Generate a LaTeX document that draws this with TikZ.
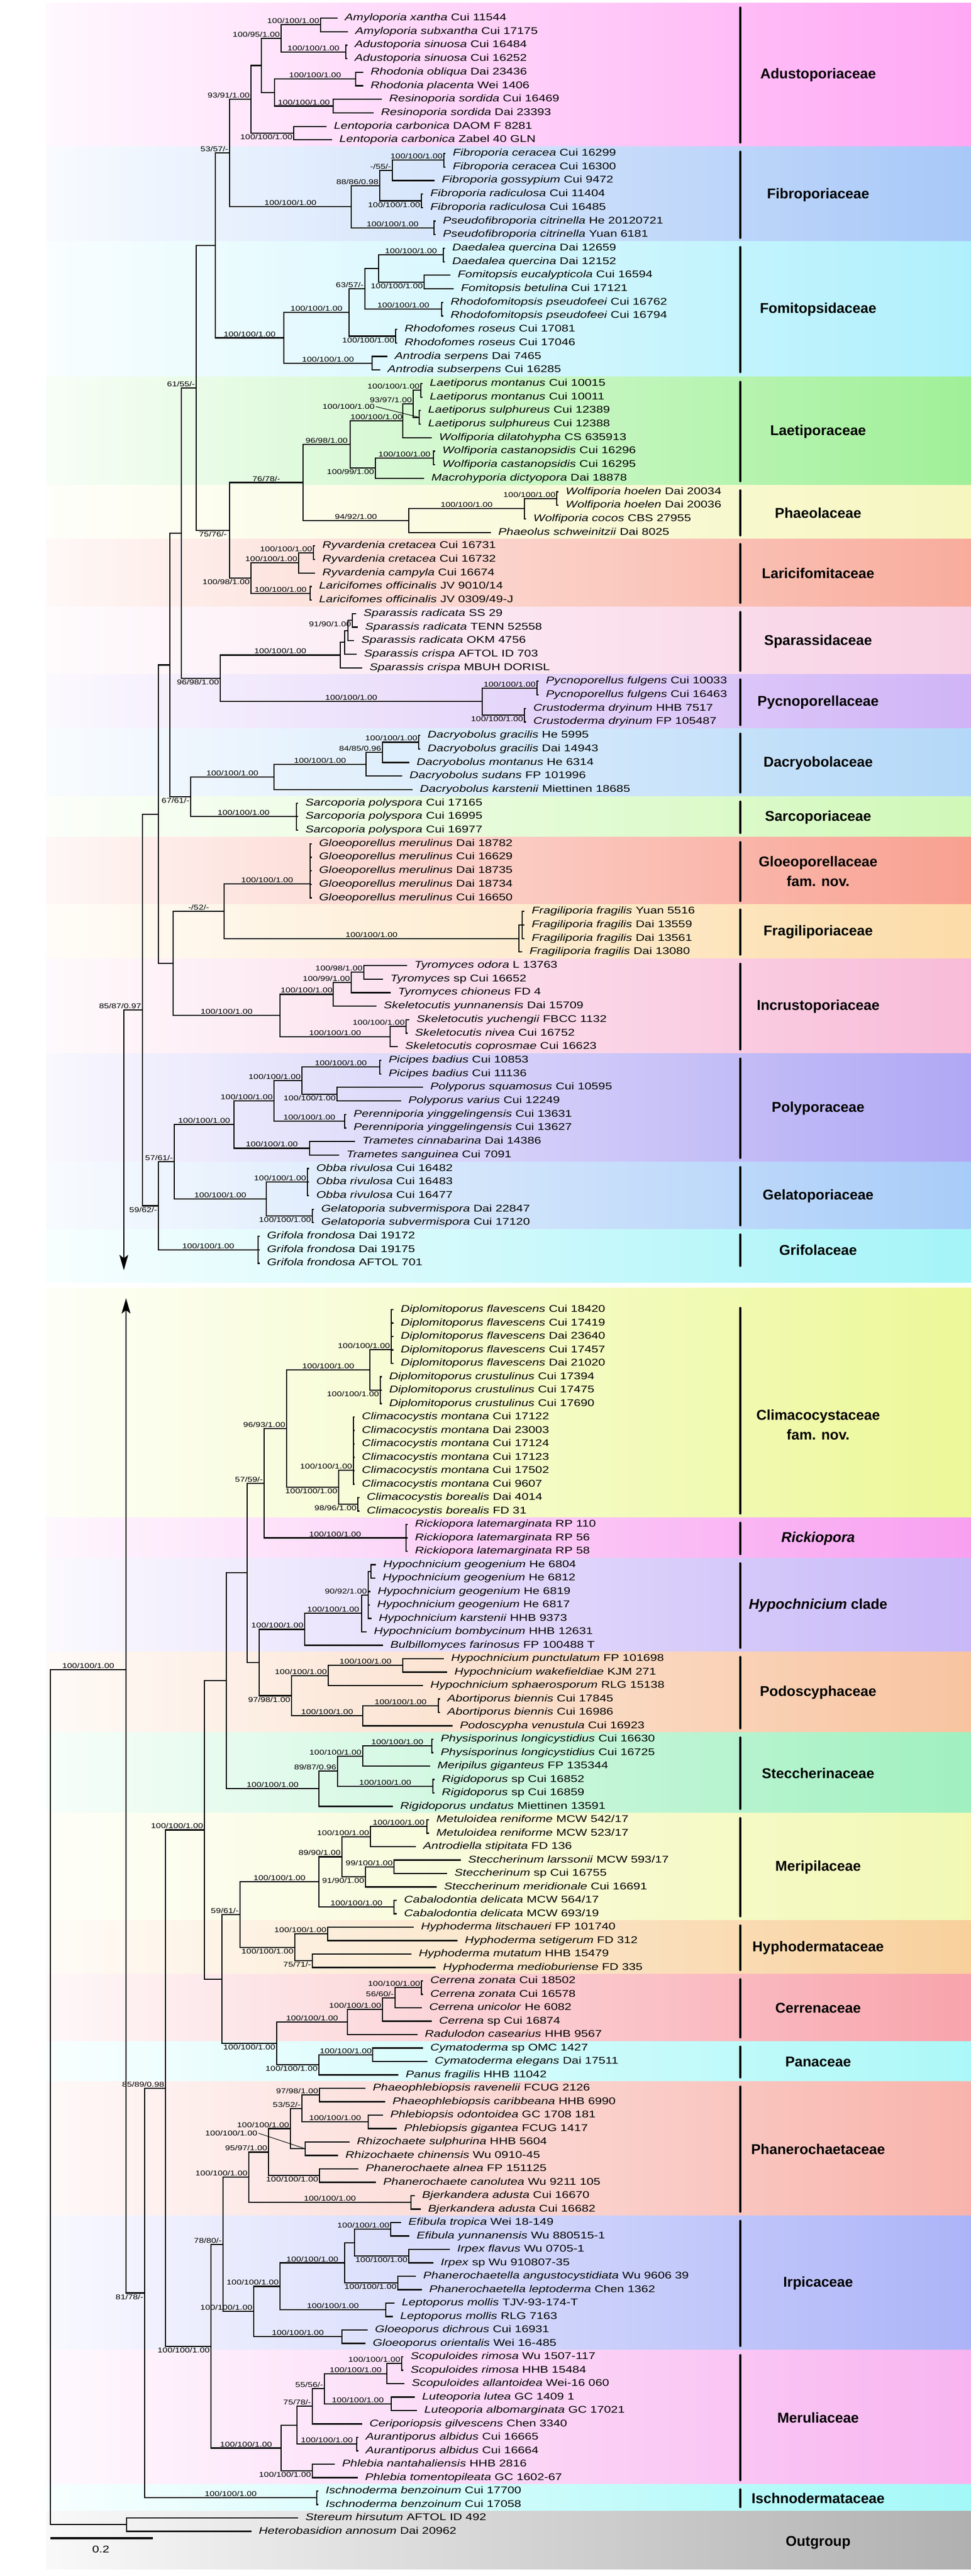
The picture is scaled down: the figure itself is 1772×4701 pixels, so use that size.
\documentclass[tikz,border=0pt]{standalone}
\usepackage{fontspec}
\setmainfont{Liberation Sans}[FakeStretch=1.27]
\newfontfamily\famfont{Liberation Sans}
\usetikzlibrary{calc,arrows.meta}
\definecolor{cAdus}{HTML}{FFA8F4}
\definecolor{cFibr}{HTML}{A8C8F8}
\definecolor{cFomi}{HTML}{B0F0FC}
\definecolor{cLaet}{HTML}{A0F098}
\definecolor{cPhae}{HTML}{F6F6C0}
\definecolor{cLari}{HTML}{F8AC9C}
\definecolor{cSpar}{HTML}{F8D0E4}
\definecolor{cPycn}{HTML}{D0B4F6}
\definecolor{cDacr}{HTML}{B4D8F8}
\definecolor{cSarc}{HTML}{D0F8B8}
\definecolor{cGloe}{HTML}{F8A090}
\definecolor{cFrag}{HTML}{FCDCA8}
\definecolor{cIncr}{HTML}{F8BCD8}
\definecolor{cPoly}{HTML}{B0A8F4}
\definecolor{cGela}{HTML}{A8CCF8}
\definecolor{cGrif}{HTML}{A4F4F8}
\definecolor{cClim}{HTML}{ECF898}
\definecolor{cRick}{HTML}{F8A0F0}
\definecolor{cHypo}{HTML}{C8B8F8}
\definecolor{cPodo}{HTML}{F8C4A0}
\definecolor{cStec}{HTML}{A0F0C0}
\definecolor{cMeri}{HTML}{F2F8B4}
\definecolor{cHyph}{HTML}{F8D09C}
\definecolor{cCerr}{HTML}{F8A4AC}
\definecolor{cPana}{HTML}{ACF8F8}
\definecolor{cPhan}{HTML}{F8B4AC}
\definecolor{cIrpi}{HTML}{ACB4F8}
\definecolor{cMeru}{HTML}{F8B4F0}
\definecolor{cIsch}{HTML}{A4F8F8}
\definecolor{cOutg}{HTML}{B0B0B0}
% tips
\newcommand{\tA}[5]{\coordinate (#1) at (#3,{33+24.7*(#2-1)}); \node[tl] (#1l) at (#1) {\textit{#4} #5};}
\newcommand{\tB}[5]{\coordinate (#1) at (#3,{2390+24.5*(#2-1)}); \node[tl] (#1l) at (#1) {\textit{#4} #5};}
% clades
\newcommand{\cl}[3]{%
  \foreach \chd [count=\ci] in {#3}{\ifnum\ci=1 \xdef\cfirst{\chd}\fi\xdef\clast{\chd}}%
  \coordinate (#1m) at ($(\cfirst)!0.5!(\clast)$);%
  \coordinate (#1x) at (#2,0);%
  \coordinate (#1) at (#1m -| #1x);%
  \draw[br] (#1 |- \cfirst) -- (#1 |- \clast);%
  \foreach \chd in {#3}{\draw[br] (#1 |- \chd) -- (\chd);}%
}
\newcommand{\clY}[4]{%
  \foreach \chd [count=\ci] in {#4}{\ifnum\ci=1 \xdef\cfirst{\chd}\fi\xdef\clast{\chd}}%
  \coordinate (#1) at (#2,#3);%
  \draw[br] (#1 |- \cfirst) -- (#1 |- \clast);%
  \foreach \chd in {#4}{\draw[br] (#1 |- \chd) -- (\chd);}%
}
% support labels
\newcommand{\lra}[2]{\node[sup,anchor=south east] (#1s) at (#1) {#2};}
\newcommand{\lrb}[2]{\node[sup,anchor=north east] (#1s) at (#1) {#2};}
\newcommand{\lca}[3]{\node[sup,anchor=south] (#1s) at ($(#1)!0.5!(#2 |- #1)$) {#3};}
\newcommand{\lcb}[3]{\node[sup,anchor=north] (#1s) at ($(#1)!0.5!(#2 |- #1)$) {#3};}
% bands and families
\newcommand{\band}[3]{\shade[left color=#1!8!white,right color=#1] (84,#2) rectangle (1772,#3);}
\newcommand{\famlab}[4]{\draw[famb] (1351,#2) -- (1351,#3); \node[fam] (#1) at (1493,{(#2+#3)/2}) {#4};}
\begin{document}
\begin{tikzpicture}[x=0.5pt,y=-0.5pt,
  br/.style={line width=1.1pt,line cap=rect},
  tl/.style={anchor=west,inner sep=0pt,font=\fontsize{8.9}{10}\selectfont,text height=6.4pt,text depth=1.9pt,xshift=7pt},
  sup/.style={inner sep=1pt,font=\fontsize{6.4}{7}\selectfont},
  fam/.style={font=\famfont\bfseries\fontsize{13}{18}\selectfont,align=center},
  famb/.style={line width=2pt,line cap=round}]
\useasboundingbox (0,0) rectangle (1772,4701);
\fill[white] (0,0) rectangle (1772,4701);
% ---------- bands top
\band{cAdus}{5}{267.65}
\band{cFibr}{267.65}{440.55}
\band{cFomi}{440.55}{687.55}
\band{cLaet}{687.55}{885.15}
\band{cPhae}{885.15}{983.95}
\band{cLari}{983.95}{1107.45}
\band{cSpar}{1107.45}{1230.95}
\band{cPycn}{1230.95}{1329.75}
\band{cDacr}{1329.75}{1453.25}
\band{cSarc}{1453.25}{1527.35}
\band{cGloe}{1527.35}{1650.85}
\band{cFrag}{1650.85}{1749.65}
\band{cIncr}{1749.65}{1922.55}
\band{cPoly}{1922.55}{2120.15}
\band{cGela}{2120.15}{2243.65}
\band{cGrif}{2243.65}{2340}
% ---------- bands bottom
\band{cClim}{2350}{2769.75}
\band{cRick}{2769.75}{2843.25}
\band{cHypo}{2843.25}{3014.75}
\band{cPodo}{3014.75}{3161.75}
\band{cStec}{3161.75}{3308.75}
\band{cMeri}{3308.75}{3504.75}
\band{cHyph}{3504.75}{3602.75}
\band{cCerr}{3602.75}{3725.25}
\band{cPana}{3725.25}{3798.75}
\band{cPhan}{3798.75}{4043.75}
\band{cIrpi}{4043.75}{4288.75}
\band{cMeru}{4288.75}{4533.75}
\band{cIsch}{4533.75}{4582.75}
\band{cOutg}{4582.75}{4688}
% ---------- top tips
\tA{t1}{1}{615}{Amyloporia xantha}{Cui 11544}
\tA{t2}{2}{634}{Amyloporia subxantha}{Cui 17175}
\tA{t3}{3}{633}{Adustoporia sinuosa}{Cui 16484}
\tA{t4}{4}{633}{Adustoporia sinuosa}{Cui 16252}
\tA{t5}{5}{662}{Rhodonia obliqua}{Dai 23436}
\tA{t6}{6}{662}{Rhodonia placenta}{Wei 1406}
\tA{t7}{7}{696}{Resinoporia sordida}{Cui 16469}
\tA{t8}{8}{681}{Resinoporia sordida}{Dai 23393}
\tA{t9}{9}{595}{Lentoporia carbonica}{DAOM F 8281}
\tA{t10}{10}{605}{Lentoporia carbonica}{Zabel 40 GLN}
\tA{t11}{11}{812}{Fibroporia ceracea}{Cui 16299}
\tA{t12}{12}{812}{Fibroporia ceracea}{Cui 16300}
\tA{t13}{13}{792}{Fibroporia gossypium}{Cui 9472}
\tA{t14}{14}{771}{Fibroporia radiculosa}{Cui 11404}
\tA{t15}{15}{771}{Fibroporia radiculosa}{Cui 16485}
\tA{t16}{16}{794}{Pseudofibroporia citrinella}{He 20120721}
\tA{t17}{17}{794}{Pseudofibroporia citrinella}{Yuan 6181}
\tA{t18}{18}{811}{Daedalea quercina}{Dai 12659}
\tA{t19}{19}{811}{Daedalea quercina}{Dai 12152}
\tA{t20}{20}{821}{Fomitopsis eucalypticola}{Cui 16594}
\tA{t21}{21}{827}{Fomitopsis betulina}{Cui 17121}
\tA{t22}{22}{808}{Rhodofomitopsis pseudofeei}{Cui 16762}
\tA{t23}{23}{808}{Rhodofomitopsis pseudofeei}{Cui 16794}
\tA{t24}{24}{724}{Rhodofomes roseus}{Cui 17081}
\tA{t25}{25}{724}{Rhodofomes roseus}{Cui 17046}
\tA{t26}{26}{706}{Antrodia serpens}{Dai 7465}
\tA{t27}{27}{693}{Antrodia subserpens}{Cui 16285}
\tA{t28}{28}{770}{Laetiporus montanus}{Cui 10015}
\tA{t29}{29}{770}{Laetiporus montanus}{Cui 10011}
\tA{t30}{30}{767}{Laetiporus sulphureus}{Cui 12389}
\tA{t31}{31}{767}{Laetiporus sulphureus}{Cui 12388}
\tA{t32}{32}{787}{Wolfiporia dilatohypha}{CS 635913}
\tA{t33}{33}{793}{Wolfiporia castanopsidis}{Cui 16296}
\tA{t34}{34}{793}{Wolfiporia castanopsidis}{Cui 16295}
\tA{t35}{35}{773}{Macrohyporia dictyopora}{Dai 18878}
\tA{t36}{36}{1018}{Wolfiporia hoelen}{Dai 20034}
\tA{t37}{37}{1018}{Wolfiporia hoelen}{Dai 20036}
\tA{t38}{38}{959}{Wolfiporia cocos}{CBS 27955}
\tA{t39}{39}{895}{Phaeolus schweinitzii}{Dai 8025}
\tA{t40}{40}{574}{Ryvardenia cretacea}{Cui 16731}
\tA{t41}{41}{574}{Ryvardenia cretacea}{Cui 16732}
\tA{t42}{42}{574}{Ryvardenia campyla}{Cui 16674}
\tA{t43}{43}{568}{Laricifomes officinalis}{JV 9010/14}
\tA{t44}{44}{568}{Laricifomes officinalis}{JV 0309/49-J}
\tA{t45}{45}{649}{Sparassis radicata}{SS 29}
\tA{t46}{46}{652}{Sparassis radicata}{TENN 52558}
\tA{t47}{47}{645}{Sparassis radicata}{OKM 4756}
\tA{t48}{48}{650}{Sparassis crispa}{AFTOL ID 703}
\tA{t49}{49}{660}{Sparassis crispa}{MBUH DORISL}
\tA{t50}{50}{982}{Pycnoporellus fulgens}{Cui 10033}
\tA{t51}{51}{982}{Pycnoporellus fulgens}{Cui 16463}
\tA{t52}{52}{959}{Crustoderma dryinum}{HHB 7517}
\tA{t53}{53}{959}{Crustoderma dryinum}{FP 105487}
\tA{t54}{54}{766}{Dacryobolus gracilis}{He 5995}
\tA{t55}{55}{766}{Dacryobolus gracilis}{Dai 14943}
\tA{t56}{56}{746}{Dacryobolus montanus}{He 6314}
\tA{t57}{57}{733}{Dacryobolus sudans}{FP 101996}
\tA{t58}{58}{752}{Dacryobolus karstenii}{Miettinen 18685}
\tA{t59}{59}{543}{Sarcoporia polyspora}{Cui 17165}
\tA{t60}{60}{543}{Sarcoporia polyspora}{Cui 16995}
\tA{t61}{61}{543}{Sarcoporia polyspora}{Cui 16977}
\tA{t62}{62}{568}{Gloeoporellus merulinus}{Dai 18782}
\tA{t63}{63}{568}{Gloeoporellus merulinus}{Cui 16629}
\tA{t64}{64}{568}{Gloeoporellus merulinus}{Dai 18735}
\tA{t65}{65}{568}{Gloeoporellus merulinus}{Dai 18734}
\tA{t66}{66}{568}{Gloeoporellus merulinus}{Cui 16650}
\tA{t67}{67}{956}{Fragiliporia fragilis}{Yuan 5516}
\tA{t68}{68}{956}{Fragiliporia fragilis}{Dai 13559}
\tA{t69}{69}{956}{Fragiliporia fragilis}{Dai 13561}
\tA{t70}{70}{952}{Fragiliporia fragilis}{Dai 13080}
\tA{t71}{71}{742}{Tyromyces odora}{L 13763}
\tA{t72}{72}{698}{Tyromyces}{sp Cui 16652}
\tA{t73}{73}{712}{Tyromyces chioneus}{FD 4}
\tA{t74}{74}{686}{Skeletocutis yunnanensis}{Dai 15709}
\tA{t75}{75}{746}{Skeletocutis yuchengii}{FBCC 1132}
\tA{t76}{76}{743}{Skeletocutis nivea}{Cui 16752}
\tA{t77}{77}{725}{Skeletocutis coprosmae}{Cui 16623}
\tA{t78}{78}{695}{Picipes badius}{Cui 10853}
\tA{t79}{79}{695}{Picipes badius}{Cui 11136}
\tA{t80}{80}{771}{Polyporus squamosus}{Cui 10595}
\tA{t81}{81}{731}{Polyporus varius}{Cui 12249}
\tA{t82}{82}{631}{Perenniporia yinggelingensis}{Cui 13631}
\tA{t83}{83}{631}{Perenniporia yinggelingensis}{Cui 13627}
\tA{t84}{84}{647}{Trametes cinnabarina}{Dai 14386}
\tA{t85}{85}{618}{Trametes sanguinea}{Cui 7091}
\tA{t86}{86}{563}{Obba rivulosa}{Cui 16482}
\tA{t87}{87}{563}{Obba rivulosa}{Cui 16483}
\tA{t88}{88}{563}{Obba rivulosa}{Cui 16477}
\tA{t89}{89}{572}{Gelatoporia subvermispora}{Dai 22847}
\tA{t90}{90}{572}{Gelatoporia subvermispora}{Cui 17120}
\tA{t91}{91}{473}{Grifola frondosa}{Dai 19172}
\tA{t92}{92}{473}{Grifola frondosa}{Dai 19175}
\tA{t93}{93}{473}{Grifola frondosa}{AFTOL 701}
% ---------- top clades
\cl{cAmy}{585}{t1,t2}
\cl{cAdu}{631}{t3,t4}
\cl{c10095}{513}{cAmy,cAdu}
\cl{cRho}{649}{t5,t6}
\cl{cRes}{608}{t7,t8}
\cl{cRR}{501}{cRho,cRes}
\cl{cA1}{477}{c10095,cRR}
\cl{cLen}{536}{t9,t10}
\cl{c9391}{458}{cA1,cLen}
\cl{cFce}{810}{t11,t12}
\cl{c55}{716}{cFce,t13}
\cl{cFra}{769}{t14,t15}
\cl{c8886}{693}{c55,cFra}
\cl{cPse}{792}{t16,t17}
\cl{cFib}{641}{c8886,cPse}
\cl{c5357}{419}{c9391,cFib}
\cl{cDae}{809}{t18,t19}
\cl{cFom}{774}{t20,t21}
\cl{cDF}{691}{cDae,cFom}
\cl{cRhf}{806}{t22,t23}
\cl{c6357}{666}{cDF,cRhf}
\cl{cRof}{722}{t24,t25}
\cl{cF2}{637}{c6357,cRof}
\cl{cAnt}{679}{t26,t27}
\cl{cFomi}{518}{cF2,cAnt}
\cl{cA2}{393}{c5357,cFomi}
\cl{cLmo}{768}{t28,t29}
\cl{cLsu}{765}{t30,t31}
\cl{c9397}{754}{cLmo,cLsu}
\cl{cL2}{735}{c9397,t32}
\cl{cWca}{791}{t33,t34}
\cl{c10099}{685}{cWca,t35}
\cl{c9698a}{639}{cL2,c10099}
\cl{cWho}{1016}{t36,t37}
\cl{cWh2}{957}{cWho,t38}
\cl{c9492}{746}{cWh2,t39}
\cl{c7678}{553}{c9698a,c9492}
\cl{cRcr}{572}{t40,t41}
\cl{cRyv}{545}{cRcr,t42}
\cl{cLar}{566}{t43,t44}
\cl{c10098}{458}{cRyv,cLar}
\cl{c7576}{419}{c7678,c10098}
\cl{c6155}{358}{cA2,c7576}
\cl{cSp1}{643}{t45,t46}
\cl{cSp2}{635}{cSp1,t47}
\cl{cSp3}{629}{cSp2,t48}
\cl{cSpa}{621}{cSp3,t49}
\cl{cPfu}{980}{t50,t51}
\cl{cCru}{957}{t52,t53}
\cl{cPyc}{880}{cPfu,cCru}
\cl{c9698b}{402}{cSpa,cPyc}
\cl{cB1}{331}{c6155,c9698b}
\cl{cDgr}{764}{t54,t55}
\cl{c8485}{698}{cDgr,t56}
\cl{cD2}{668}{c8485,t57}
\cl{cDac}{500}{cD2,t58}
\cl{cSar}{541}{t59,t60,t61}
\cl{c6761}{348}{cDac,cSar}
\cl{cTb}{310}{cB1,c6761}
\clY{cGlo}{566}{1613}{t62,t63,t64,t65,t66}
\cl{cFr1}{953}{t67,t68,t69}
\cl{cFr2}{947}{cFr1,t70}
\cl{c52}{409}{cGlo,cFr2}
\cl{cTy1}{664}{t71,t72}
\cl{cTy2}{641}{cTy1,t73}
\cl{cTy3}{608}{cTy2,t74}
\cl{cSk1}{741}{t75,t76}
\cl{cSk2}{712}{cSk1,t77}
\cl{cInc}{511}{cTy3,cSk2}
\cl{cTc}{316}{c52,cInc}
\cl{cTa}{289}{cTb,cTc}
\cl{cPic}{693}{t78,t79}
\cl{cPol}{615}{t80,t81}
\cl{cPP}{551}{cPic,cPol}
\cl{cPer}{629}{t82,t83}
\cl{cPP2}{500}{cPP,cPer}
\cl{cTra}{565}{t84,t85}
\cl{cPoly}{427}{cPP2,cTra}
\cl{cObb}{561}{t86,t87,t88}
\cl{cGel}{570}{t89,t90}
\cl{cGela}{486}{cObb,cGel}
\cl{c5761}{318}{cPoly,cGela}
\cl{cGri}{471}{t91,t92,t93}
\cl{c5962}{289}{c5761,cGri}
\cl{cT0}{260}{cTa,c5962}
\coordinate (arrTop) at (226,2318);
\draw[br,-{Stealth[length=14pt,width=8pt,inset=3pt]}] (cT0) -- (cT0 -| arrTop) -- (arrTop);
% ---------- top support values
\lra{cAmy}{100/100/1.00}
\lra{c10095}{100/95/1.00}
\lca{cAdu}{c10095}{100/100/1.00}
\lca{cRho}{cRR}{100/100/1.00}
\lca{cRes}{cRR}{100/100/1.00}
\lra{c9391}{93/91/1.00}
\lrb{cLen}{100/100/1.00}
\lra{c5357}{53/57/-}
\lra{cFce}{100/100/1.00}
\lra{c55}{-/55/-}
\lra{c8886}{88/86/0.98}
\lrb{cFra}{100/100/1.00}
\lca{cFib}{c5357}{100/100/1.00}
\lca{cPse}{cFib}{100/100/1.00}
\lca{cDae}{cDF}{100/100/1.00}
\lra{c6357}{63/57/-}
\lrb{cFom}{100/100/1.00}
\lca{cRhf}{c6357}{100/100/1.00}
\lca{cF2}{cFomi}{100/100/1.00}
\lrb{cRof}{100/100/1.00}
\lca{cFomi}{cA2}{100/100/1.00}
\lca{cAnt}{cFomi}{100/100/1.00}
\lra{c6155}{61/55/-}
\lra{cLmo}{100/100/1.00}
\lra{c9397}{93/97/1.00}
\node[sup,anchor=east] (cLsus) at (686,742) {100/100/1.00};
\draw[line width=0.5pt] (cLsus.east) -- (cLsu);
\lca{cL2}{c9698a}{100/100/1.00}
\lca{c9698a}{c7678}{96/98/1.00}
\lca{cWca}{c10099}{100/100/1.00}
\lrb{c10099}{100/99/1.00}
\lca{c7678}{c7576}{76/78/-}
\lra{cWho}{100/100/1.00}
\lca{cWh2}{c9492}{100/100/1.00}
\lca{c9492}{c7678}{94/92/1.00}
\lcb{c7576}{c6155}{75/76/-}
\lra{cRcr}{100/100/1.00}
\lra{cRyv}{100/100/1.00}
\lrb{c10098}{100/98/1.00}
\lca{cLar}{c10098}{100/100/1.00}
\lrb{cSp1}{91/90/1.00}
\lca{cSpa}{c9698b}{100/100/1.00}
\lrb{c9698b}{96/98/1.00}
\lca{cPfu}{cPyc}{100/100/1.00}
\lrb{cCru}{100/100/1.00}
\lca{cPyc}{c9698b}{100/100/1.00}
\lra{cDgr}{100/100/1.00}
\lra{c8485}{84/85/0.96}
\lca{cD2}{cDac}{100/100/1.00}
\lca{cDac}{c6761}{100/100/1.00}
\lrb{c6761}{67/61/-}
\lca{cSar}{c6761}{100/100/1.00}
\lca{cGlo}{c52}{100/100/1.00}
\lca{cFr2}{c52}{100/100/1.00}
\lca{c52}{cTc}{-/52/-}
\lra{cTy1}{100/98/1.00}
\lra{cTy2}{100/99/1.00}
\lca{cTy3}{cInc}{100/100/1.00}
\lra{cSk1}{100/100/1.00}
\lca{cSk2}{cInc}{100/100/1.00}
\lca{cInc}{cTc}{100/100/1.00}
\lra{cT0}{85/87/0.97}
\lca{cPic}{cPP}{100/100/1.00}
\lra{cPP}{100/100/1.00}
\lrb{cPol}{100/100/1.00}
\lra{cPP2}{100/100/1.00}
\lca{cPer}{cPP2}{100/100/1.00}
\lca{cPoly}{c5761}{100/100/1.00}
\lca{cTra}{cPoly}{100/100/1.00}
\lra{c5761}{57/61/-}
\lra{cObb}{100/100/1.00}
\lca{cGela}{c5761}{100/100/1.00}
\lrb{cGel}{100/100/1.00}
\lrb{c5962}{59/62/-}
\lca{cGri}{c5962}{100/100/1.00}
% ---------- bottom tips
\tB{b1}{1}{717}{Diplomitoporus flavescens}{Cui 18420}
\tB{b2}{2}{717}{Diplomitoporus flavescens}{Cui 17419}
\tB{b3}{3}{717}{Diplomitoporus flavescens}{Dai 23640}
\tB{b4}{4}{717}{Diplomitoporus flavescens}{Cui 17457}
\tB{b5}{5}{717}{Diplomitoporus flavescens}{Dai 21020}
\tB{b6}{6}{696}{Diplomitoporus crustulinus}{Cui 17394}
\tB{b7}{7}{696}{Diplomitoporus crustulinus}{Cui 17475}
\tB{b8}{8}{696}{Diplomitoporus crustulinus}{Cui 17690}
\tB{b9}{9}{646}{Climacocystis montana}{Cui 17122}
\tB{b10}{10}{646}{Climacocystis montana}{Dai 23003}
\tB{b11}{11}{646}{Climacocystis montana}{Cui 17124}
\tB{b12}{12}{646}{Climacocystis montana}{Cui 17123}
\tB{b13}{13}{646}{Climacocystis montana}{Cui 17502}
\tB{b14}{14}{646}{Climacocystis montana}{Cui 9607}
\tB{b15}{15}{655}{Climacocystis borealis}{Dai 4014}
\tB{b16}{16}{655}{Climacocystis borealis}{FD 31}
\tB{b17}{17}{743}{Rickiopora latemarginata}{RP 110}
\tB{b18}{18}{743}{Rickiopora latemarginata}{RP 56}
\tB{b19}{19}{743}{Rickiopora latemarginata}{RP 58}
\tB{b20}{20}{685}{Hypochnicium geogenium}{He 6804}
\tB{b21}{21}{684}{Hypochnicium geogenium}{He 6812}
\tB{b22}{22}{675}{Hypochnicium geogenium}{He 6819}
\tB{b23}{23}{674}{Hypochnicium geogenium}{He 6817}
\tB{b24}{24}{677}{Hypochnicium karstenii}{HHB 9373}
\tB{b25}{25}{668}{Hypochnicium bombycinum}{HHB 12631}
\tB{b26}{26}{698}{Bulbillomyces farinosus}{FP 100488 T}
\tB{b27}{27}{809}{Hypochnicium punctulatum}{FP 101698}
\tB{b28}{28}{815}{Hypochnicium wakefieldiae}{KJM 271}
\tB{b29}{29}{771}{Hypochnicium sphaerosporum}{RLG 15138}
\tB{b30}{30}{802}{Abortiporus biennis}{Cui 17845}
\tB{b31}{31}{802}{Abortiporus biennis}{Cui 16986}
\tB{b32}{32}{825}{Podoscypha venustula}{Cui 16923}
\tB{b33}{33}{790}{Physisporinus longicystidius}{Cui 16630}
\tB{b34}{34}{790}{Physisporinus longicystidius}{Cui 16725}
\tB{b35}{35}{784}{Meripilus giganteus}{FP 135344}
\tB{b36}{36}{792}{Rigidoporus}{sp Cui 16852}
\tB{b37}{37}{792}{Rigidoporus}{sp Cui 16859}
\tB{b38}{38}{716}{Rigidoporus undatus}{Miettinen 13591}
\tB{b39}{39}{782}{Metuloidea reniforme}{MCW 542/17}
\tB{b40}{40}{782}{Metuloidea reniforme}{MCW 523/17}
\tB{b41}{41}{758}{Antrodiella stipitata}{FD 136}
\tB{b42}{42}{840}{Steccherinum larssonii}{MCW 593/17}
\tB{b43}{43}{815}{Steccherinum}{sp Cui 16755}
\tB{b44}{44}{796}{Steccherinum meridionale}{Cui 16691}
\tB{b45}{45}{723}{Cabalodontia delicata}{MCW 564/17}
\tB{b46}{46}{723}{Cabalodontia delicata}{MCW 693/19}
\tB{b47}{47}{754}{Hyphoderma litschaueri}{FP 101740}
\tB{b48}{48}{834}{Hyphoderma setigerum}{FD 312}
\tB{b49}{49}{750}{Hyphoderma mutatum}{HHB 15479}
\tB{b50}{50}{794}{Hyphoderma medioburiense}{FD 335}
\tB{b51}{51}{771}{Cerrena zonata}{Cui 18502}
\tB{b52}{52}{771}{Cerrena zonata}{Cui 16578}
\tB{b53}{53}{769}{Cerrena unicolor}{He 6082}
\tB{b54}{54}{787}{Cerrena}{sp Cui 16874}
\tB{b55}{55}{761}{Radulodon casearius}{HHB 9567}
\tB{b56}{56}{771}{Cymatoderma}{sp OMC 1427}
\tB{b57}{57}{779}{Cymatoderma elegans}{Dai 17511}
\tB{b58}{58}{726}{Panus fragilis}{HHB 11042}
\tB{b59}{59}{666}{Phaeophlebiopsis ravenelii}{FCUG 2126}
\tB{b60}{60}{702}{Phaeophlebiopsis caribbeana}{HHB 6990}
\tB{b61}{61}{698}{Phlebiopsis odontoidea}{GC 1708 181}
\tB{b62}{62}{723}{Phlebiopsis gigantea}{FCUG 1417}
\tB{b63}{63}{637}{Rhizochaete sulphurina}{HHB 5604}
\tB{b64}{64}{616}{Rhizochaete chinensis}{Wu 0910-45}
\tB{b65}{65}{653}{Phanerochaete alnea}{FP 151125}
\tB{b66}{66}{685}{Phanerochaete canolutea}{Wu 9211 105}
\tB{b67}{67}{756}{Bjerkandera adusta}{Cui 16670}
\tB{b68}{68}{767}{Bjerkandera adusta}{Cui 16682}
\tB{b69}{69}{731}{Efibula tropica}{Wei 18-149}
\tB{b70}{70}{746}{Efibula yunnanensis}{Wu 880515-1}
\tB{b71}{71}{820}{Irpex flavus}{Wu 0705-1}
\tB{b72}{72}{790}{Irpex}{sp Wu 910807-35}
\tB{b73}{73}{758}{Phanerochaetella angustocystidiata}{Wu 9606 39}
\tB{b74}{74}{769}{Phanerochaetella leptoderma}{Chen 1362}
\tB{b75}{75}{719}{Leptoporus mollis}{TJV-93-174-T}
\tB{b76}{76}{716}{Leptoporus mollis}{RLG 7163}
\tB{b77}{77}{670}{Gloeoporus dichrous}{Cui 16931}
\tB{b78}{78}{666}{Gloeoporus orientalis}{Wei 16-485}
\tB{b79}{79}{735}{Scopuloides rimosa}{Wu 1507-117}
\tB{b80}{80}{735}{Scopuloides rimosa}{HHB 15484}
\tB{b81}{81}{737}{Scopuloides allantoidea}{Wei-16 060}
\tB{b82}{82}{756}{Luteoporia lutea}{GC 1409 1}
\tB{b83}{83}{760}{Luteoporia albomarginata}{GC 17021}
\tB{b84}{84}{660}{Ceriporiopsis gilvescens}{Chen 3340}
\tB{b85}{85}{653}{Aurantiporus albidus}{Cui 16665}
\tB{b86}{86}{653}{Aurantiporus albidus}{Cui 16664}
\tB{b87}{87}{610}{Phlebia nantahaliensis}{HHB 2816}
\tB{b88}{88}{652}{Phlebia tomentopileata}{GC 1602-67}
\tB{b89}{89}{580}{Ischnoderma benzoinum}{Cui 17700}
\tB{b90}{90}{580}{Ischnoderma benzoinum}{Cui 17058}
\tB{b91}{91}{543}{Stereum hirsutum}{AFTOL ID 492}
\tB{b92}{92}{458}{Heterobasidion annosum}{Dai 20962}
% ---------- bottom clades
\clY{cDfl}{714}{2463}{b1,b2,b3,b4,b5}
\cl{cDcr}{694}{b6,b7,b8}
\cl{cDip}{675}{cDfl,cDcr}
\clY{cCmo}{645}{2683}{b9,b10,b11,b12,b13,b14}
\cl{cCbo}{653}{b15,b16}
\cl{cCli}{618}{cCmo,cCbo}
\cl{c9693}{523}{cDip,cCli}
\cl{cRic}{741}{b17,b18,b19}
\cl{c5759}{482}{c9693,cRic}
\cl{cHg1}{677}{b20,b21}
\cl{c9092}{672}{cHg1,b22,b23,b24}
\cl{cHy2}{660}{c9092,b25}
\cl{cHyp}{556}{cHy2,b26}
\cl{cHpw}{735}{b27,b28}
\cl{cHs}{599}{cHpw,b29}
\cl{cAbo}{800}{b30,b31}
\cl{cAb2}{662}{cAbo,b32}
\cl{c9798}{532}{cHs,cAb2}
\cl{cB473}{473}{cHyp,c9798}
\cl{cB451}{451}{c5759,cB473}
\cl{cPhy}{788}{b33,b34}
\cl{cPM}{662}{cPhy,b35}
\cl{cRsp}{790}{b36,b37}
\cl{c8987}{616}{cPM,cRsp}
\cl{cStec}{582}{c8987,b38}
\cl{cB413}{413}{cB451,cStec}
\cl{cMet}{779}{b39,b40}
\cl{cMA}{676}{cMet,b41}
\cl{c99100}{719}{b42,b43}
\cl{c9190}{667}{c99100,b44}
\cl{c8990}{624}{cMA,c9190}
\cl{cCab}{719}{b45,b46}
\cl{cMeri}{582}{c8990,cCab}
\cl{cHl}{598}{b47,b48}
\cl{c7571}{570}{b49,b50}
\cl{cHyph}{538}{cHl,c7571}
\cl{c5961}{438}{cMeri,cHyph}
\cl{cCz}{769}{b51,b52}
\cl{c5660}{721}{cCz,b53}
\cl{cCe2}{698}{c5660,b54}
\cl{cCer}{634}{cCe2,b55}
\cl{cCym}{680}{b56,b57}
\cl{cPan}{582}{cCym,b58}
\cl{cB505}{505}{cCer,cPan}
\cl{cB405}{405}{c5961,cB505}
\cl{cB373}{373}{cB413,cB405}
\cl{cPhp}{583}{b59,b60}
\cl{cPhl}{672}{b61,b62}
\cl{c5352}{551}{cPhp,cPhl}
\cl{cRhi}{557}{b63,b64}
\cl{cB530}{530}{c5352,cRhi}
\cl{cPha}{583}{b65,b66}
\cl{c9597}{490}{cB530,cPha}
\cl{cBje}{750}{b67,b68}
\cl{cPhan}{454}{c9597,cBje}
\cl{cEfi}{713}{b69,b70}
\cl{cIrp}{746}{b71,b72}
\cl{cB647}{647}{cEfi,cIrp}
\cl{cPht}{726}{b73,b74}
\cl{cB629}{629}{cB647,cPht}
\cl{cLep}{704}{b75,b76}
\cl{cB511}{511}{cB629,cLep}
\cl{cGlp}{624}{b77,b78}
\cl{cIrpi}{463}{cB511,cGlp}
\cl{c7880}{407}{cPhan,cIrpi}
\cl{cSr}{733}{b79,b80}
\cl{cB706}{706}{cSr,b81}
\cl{cLut}{714}{b82,b83}
\cl{c5556}{592}{cB706,cLut}
\cl{c7578}{570}{c5556,b84}
\cl{cAur}{651}{b85,b86}
\cl{cB542}{542}{c7578,cAur}
\cl{cPhb}{570}{b87,b88}
\cl{cMeru}{513}{cB542,cPhb}
\cl{cB385}{385}{c7880,cMeru}
\cl{c8589}{302}{cB373,cB385}
\cl{cIsc}{578}{b89,b90}
\cl{c8178}{264}{c8589,cIsc}
\cl{cOut}{231}{b91,b92}
\coordinate (arrBot) at (230,2369);
\coordinate (I0) at (230,3047);
\draw[br,-{Stealth[length=14pt,width=8pt,inset=3pt]}] (I0 |- c8178) -- (arrBot);
\draw[br] (I0 |- c8178) -- (c8178);
\cl{root}{92}{I0,cOut}
% ---------- bottom support values
\lca{I0}{root}{100/100/1.00}
\lrb{c8178}{81/78/-}
\lra{c8589}{85/89/0.98}
\lra{cB373}{100/100/1.00}
\lrb{cB385}{100/100/1.00}
\lra{c9693}{96/93/1.00}
\lra{c5759}{57/59/-}
\lca{cDip}{c9693}{100/100/1.00}
\lra{cDfl}{100/100/1.00}
\lrb{cDcr}{100/100/1.00}
\lrb{cCli}{100/100/1.00}
\lra{cCmo}{100/100/1.00}
\lrb{cCbo}{98/96/1.00}
\lca{cRic}{c5759}{100/100/1.00}
\lra{cHyp}{100/100/1.00}
\lca{cHy2}{cHyp}{100/100/1.00}
\lra{c9092}{90/92/1.00}
\lrb{c9798}{97/98/1.00}
\lra{cHs}{100/100/1.00}
\lca{cHpw}{cHs}{100/100/1.00}
\lca{cAb2}{c9798}{100/100/1.00}
\lca{cAbo}{cAb2}{100/100/1.00}
\lca{cStec}{cB413}{100/100/1.00}
\lra{c8987}{89/87/0.96}
\lra{cPM}{100/100/1.00}
\lca{cPhy}{cPM}{100/100/1.00}
\lca{cRsp}{c8987}{100/100/1.00}
\lca{cMeri}{c5961}{100/100/1.00}
\lra{c8990}{89/90/1.00}
\lra{cMA}{100/100/1.00}
\lca{cMet}{cMA}{100/100/1.00}
\lra{c99100}{99/100/1.00}
\lrb{c9190}{91/90/1.00}
\lca{cCab}{cMeri}{100/100/1.00}
\lra{c5961}{59/61/-}
\lrb{cHyph}{100/100/1.00}
\lra{cHl}{100/100/1.00}
\lrb{c7571}{75/71/-}
\lcb{cB505}{cB405}{100/100/1.00}
\lca{cCer}{cB505}{100/100/1.00}
\lra{cCe2}{100/100/1.00}
\lra{c5660}{56/60/-}
\lra{cCz}{100/100/1.00}
\lrb{cPan}{100/100/1.00}
\lca{cCym}{cPan}{100/100/1.00}
\lra{cB530}{100/100/1.00}
\lra{c9597}{95/97/1.00}
\lra{c5352}{53/52/-}
\lra{cPhp}{97/98/1.00}
\lca{cPhl}{c5352}{100/100/1.00}
\node[sup,anchor=east] (cRhis) at (472,3893) {100/100/1.00};
\draw[line width=0.5pt] (cRhis.east) -- (cRhi);
\lrb{cPha}{100/100/1.00}
\lca{cBje}{cPhan}{100/100/1.00}
\lra{cPhan}{100/100/1.00}
\lra{c7880}{78/80/-}
\lra{cIrpi}{100/100/1.00}
\lra{cB511}{100/100/1.00}
\lca{cB629}{cB511}{100/100/1.00}
\lra{cEfi}{100/100/1.00}
\lrb{cIrp}{100/100/1.00}
\lrb{cPht}{100/100/1.00}
\lca{cLep}{cB511}{100/100/1.00}
\lca{cGlp}{cIrpi}{100/100/1.00}
\lca{cMeru}{cB385}{100/100/1.00}
\lra{c7578}{75/78/-}
\lra{c5556}{55/56/-}
\lca{cB706}{c5556}{100/100/1.00}
\lra{cSr}{100/100/1.00}
\lca{cLut}{c5556}{100/100/1.00}
\lca{cAur}{cB542}{100/100/1.00}
\lrb{cPhb}{100/100/1.00}
\lca{cIsc}{c8178}{100/100/1.00}
% ---------- scale bar
\coordinate (sb1) at (92,4632);
\coordinate (sb2) at (279,4632);
\draw[line width=1.6pt] (sb1) -- (sb2);
\node[font=\fontsize{8.9}{10}\selectfont] (sbl) at (184,4652) {0.2};
% ---------- family bars and labels
\famlab{fAdus}{14}{260}{Adustoporiaceae}
\famlab{fFibr}{277}{434}{Fibroporiaceae}
\famlab{fFomi}{451}{679}{Fomitopsidaceae}
\famlab{fLaet}{697}{878}{Laetiporaceae}
\famlab{fPhae}{895}{977}{Phaeolaceae}
\famlab{fLari}{993}{1100}{Laricifomitaceae}
\famlab{fSpar}{1117}{1224}{Sparassidaceae}
\famlab{fPycn}{1240}{1323}{Pycnoporellaceae}
\famlab{fDacr}{1339}{1446}{Dacryobolaceae}
\famlab{fSarc}{1463}{1520}{Sarcoporiaceae}
\famlab{fGloe}{1537}{1644}{Gloeoporellaceae\\fam. nov.}
\famlab{fFrag}{1660}{1742}{Fragiliporiaceae}
\famlab{fIncr}{1759}{1915}{Incrustoporiaceae}
\famlab{fPoly}{1932}{2113}{Polyporaceae}
\famlab{fGela}{2130}{2236}{Gelatoporiaceae}
\famlab{fGrif}{2253}{2310}{Grifolaceae}
\draw[famb] (1351,2387) -- (1351,2762);
\node[fam] (fClim) at (1493,2600) {Climacocystaceae\\fam. nov.};
\famlab{fRick}{2779}{2836}{\textit{Rickiopora}}
\famlab{fHypo}{2853}{3007}{\textit{Hypochnicium} clade}
\famlab{fPodo}{3024}{3154}{Podoscyphaceae}
\famlab{fStec}{3171}{3301}{Steccherinaceae}
\famlab{fMeri}{3318}{3497}{Meripilaceae}
\famlab{fHyph}{3514}{3595}{Hyphodermataceae}
\famlab{fCerr}{3612}{3718}{Cerrenaceae}
\famlab{fPana}{3735}{3791}{Panaceae}
\famlab{fPhan}{3808}{4036}{Phanerochaetaceae}
\famlab{fIrpi}{4053}{4281}{Irpicaceae}
\famlab{fMeru}{4298}{4526}{Meruliaceae}
\famlab{fIsch}{4543}{4575}{Ischnodermataceae}
\node[fam] (fOutg) at (1493,4640) {Outgroup};
\end{tikzpicture}
\end{document}
